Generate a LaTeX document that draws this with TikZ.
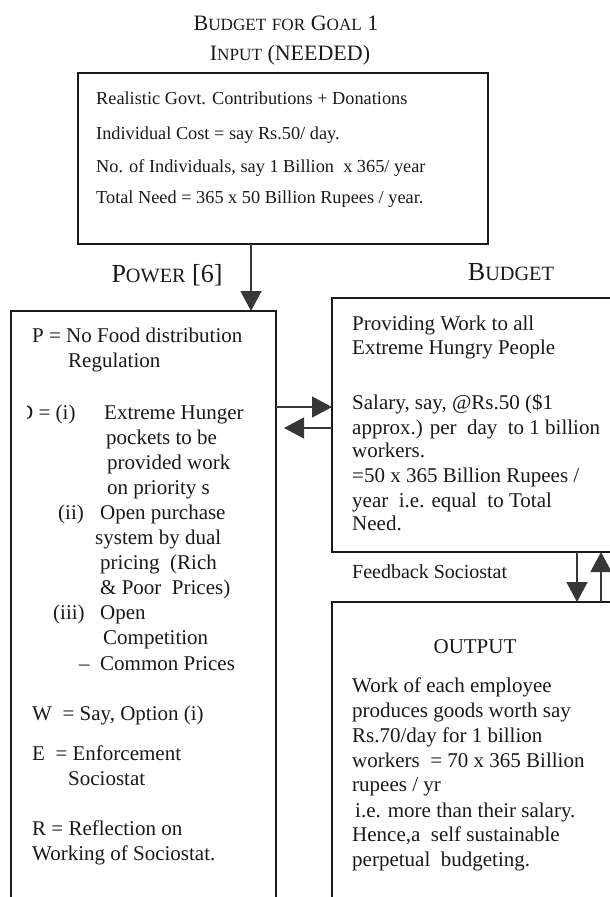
\documentclass[tikz,border=0pt]{standalone}
\usepackage{fontspec}
\setmainfont{Liberation Serif}
\definecolor{ink}{RGB}{25,25,25}
\definecolor{arrowgrey}{RGB}{55,55,55}
\usetikzlibrary{arrows.meta, positioning, calc}
\newcommand{\fsc}[2]{#1\scalebox{0.78}{#2}}

\begin{document}
\begin{tikzpicture}[
  x=1pt, y=-1pt,
  box/.style={draw=ink, line width=1.2pt, inner sep=0pt, outer sep=0pt, anchor=north west},
  arr/.style={draw=arrowgrey, line width=1.3pt, -{Triangle[length=20pt,width=21pt]}},
  head/.style={inner sep=0pt, anchor=base, text=ink},
  ln/.style={inner sep=0pt, anchor=base west, text=ink, font=\fontsize{21}{25}\selectfont},
  lnsmall/.style={ln, font=\fontsize{18.3}{22}\selectfont}
]
\useasboundingbox (0,0) rectangle (610,897);
\clip (0,0) rectangle (610,897);

% Boxes
\node[box, minimum width=410pt, minimum height=171pt] (inbox) at (78,73) {};
\node[box, minimum width=265pt, minimum height=620pt] (powerbox) at (11,311) {};
\node[box, minimum width=300pt, minimum height=254pt] (budgetbox) at (332,298) {};
\node[box, minimum width=300pt, minimum height=320pt] (outbox) at (332,602) {};

% Headings
\node[head, font=\fontsize{22}{26}\selectfont] (title) at (286,30)
  {\fsc{B}{UDGET} \scalebox{0.78}{FOR} \fsc{G}{OAL} 1};
\node[head, font=\fontsize{22}{26}\selectfont] (input) at (290,60)
  {\fsc{I}{NPUT} (NEEDED)};
\node[head, font=\fontsize{26}{30}\selectfont] (power) at (167,282) {\fsc{P}{OWER} [6]};
\node[head, font=\fontsize{26}{30}\selectfont] (budget) at (511,280) {\fsc{B}{UDGET}};
\node[head, font=\fontsize{21}{25}\selectfont] (output) at (475,653) {OUTPUT};

% Input box
\node[lnsmall] (in1) at (96,104) {Realistic Govt. Contributions + Donations};
\node[lnsmall] (in2) at (96,139) {Individual Cost = say Rs.50/ day.};
\node[lnsmall] (in3) at (96,172) {No. of Individuals, say 1 Billion\ \ x 365/ year};
\node[lnsmall] (in4) at (96,203) {Total Need = 365 x 50 Billion Rupees / year.};

% Power box
\foreach \x/\y/\t in {
  32/342/{P = No Food distribution},
  68/367/{Regulation},
  104/419/{Extreme Hunger},
  106/444/{pockets to be},
  107/469/{provided work},
  107/494/{on priority s},
  58/519/{(ii)},
  100/519/{Open purchase},
  95/544/{system by dual},
  100/569/{pricing\ \ (Rich},
  100/594/{\& Poor\ \ Prices)},
  53/619/{(iii)},
  100/619/{Open},
  103/644/{Competition},
  79/670/{--},
  100/670/{Common Prices},
  32/720/{W\ \ = Say, Option (i)},
  32/760/{E\ \ = Enforcement},
  68/785/{Sociostat},
  32/835/{R = Reflection on},
  32/860/{Working of Sociostat.}
}{
  \node[ln] at (\x,\y) {\t};
}
\begin{scope}
  \clip (27,395) rectangle (100,430);
  \node[ln] (dline) at (18,419) {D = (i)};
\end{scope}

% Budget box
\foreach \y/\t in {
  330/{Providing Work to all},
  354/{Extreme Hungry People},
  409/{Salary, say, @Rs.50 (\$1},
  434/{approx.) per\ \ day\ \ to 1 billion},
  457/{workers.},
  482/{=50 x 365 Billion Rupees /},
  507/{year\ \ i.e. equal\ \ to Total},
  530/{Need.}
}{
  \node[ln] at (352,\y) {\t};
}
\node[ln, font=\fontsize{20}{24}\selectfont] (feedback) at (352,578) {Feedback Sociostat};

% Output box
\foreach \x/\y/\t in {
  352/692/{Work of each employee},
  352/717/{produces goods worth say},
  352/742/{Rs.70/day for 1 billion},
  352/767/{workers\ \ = 70 x 365 Billion},
  352/791/{rupees / yr},
  355/817/{i.e. more than their salary.},
  352/841/{Hence,a\ \ self sustainable},
  352/866/{perpetual\ \ budgeting.}
}{
  \node[ln] at (\x,\y) {\t};
}

% Arrows
\draw[arr] ($(inbox.south west)+(173,0)$) -- ($(powerbox.north east)+(-25,0)$);
\draw[arr] ($(powerbox.north east)+(0,96)$) -- ($(budgetbox.north west)+(0,109)$);
\draw[arr] ($(budgetbox.north west)+(0,130)$) -- ($(powerbox.north east)+(8,117)$);
\draw[arr] ($(budgetbox.south west)+(245,0)$) -- ($(outbox.north west)+(245,0)$);
\draw[arr] ($(outbox.north west)+(269,0)$) -- ($(budgetbox.south west)+(269,0)$);

\end{tikzpicture}
\end{document}
